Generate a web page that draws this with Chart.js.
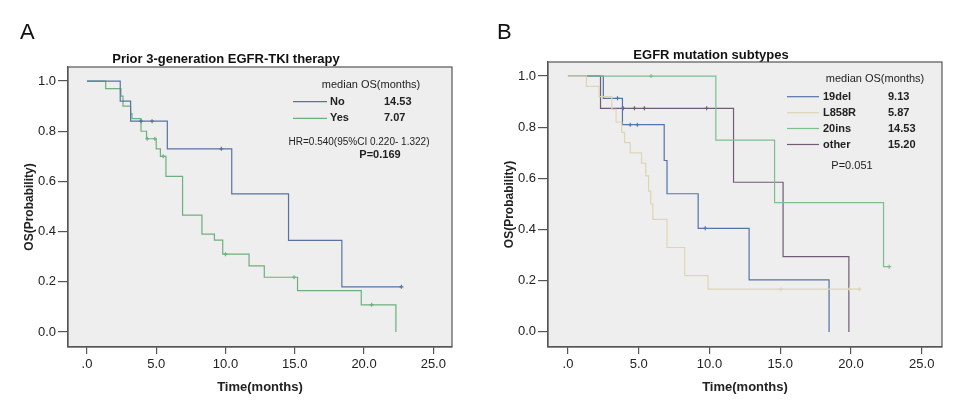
<!DOCTYPE html>
<html>
<head>
<meta charset="utf-8">
<script src="https://cdn.jsdelivr.net/npm/chart.js@4"></script>
<style>
  body { margin: 0; background: #fff; width: 960px; height: 407px; position: relative; overflow: hidden; font-family: "Liberation Sans", Arial, sans-serif; }
  .panel { position: absolute; top: 0; width: 480px; height: 407px; }
  .letter { position: absolute; font-size: 22px; line-height: 22px; color: #111; top: 21px; }
</style>
</head>
<body>
<div class="panel" style="left:0"><canvas id="chartA" width="480" height="407"></canvas></div>
<div class="panel" style="left:480px"><canvas id="chartB" width="480" height="407"></canvas></div>
<div class="letter" style="left:20px">A</div>
<div class="letter" style="left:497px">B</div>
<script>
// axis ticks
const timeTicks = [0, 5, 10, 15, 20, 25];
const probTicks = [0, 0.2, 0.4, 0.6, 0.8, 1.0];

// panel A - prior 3rd generation EGFR-TKI
const aGroups = ['No', 'Yes'];
const aMedians = ['14.53', '7.07'];
const noTimes = [0, 2.4, 3.15, 5.8, 10.45, 14.55, 18.4, 22.7];
const noSurv = [1, 0.92, 0.84, 0.73, 0.55, 0.365, 0.18, 0.18];
const noCensor = [3.9, 4.7, 9.7, 22.7];
const yesTimes = [0, 1.35, 2.45, 2.6, 3.15, 3.25, 3.9, 4.3, 5.0, 5.3, 5.7, 6.9, 8.3, 9.2, 9.8, 11.7, 12.8, 15.2, 19.8, 22.3];
const yesSurv = [1, 0.97, 0.94, 0.90, 0.87, 0.85, 0.80, 0.77, 0.73, 0.70, 0.62, 0.466, 0.39, 0.366, 0.31, 0.263, 0.218, 0.165, 0.108, 0];
const yesCensor = [4.35, 4.9, 5.5, 10.0, 14.95, 20.55];

// panel B - EGFR mutation subtypes
const bGroups = ['19del', 'L858R', '20ins', 'other'];
const bMedians = ['9.13', '5.87', '14.53', '15.20'];
const delTimes = [0, 2.5, 3.85, 6.8, 7.0, 9.2, 12.8, 18.45];
const delSurv = [1, 0.913, 0.81, 0.67, 0.54, 0.405, 0.203, 0];
const delCensor = [3.5, 4.4, 4.9, 9.7];
const l858Times = [0, 1.3, 2.2, 3.1, 3.4, 3.8, 4.0, 4.4, 5.2, 5.5, 5.7, 5.85, 6.0, 7.0, 8.25, 9.9, 20.6];
const l858Surv = [1, 0.96, 0.92, 0.87, 0.82, 0.78, 0.74, 0.70, 0.66, 0.61, 0.55, 0.50, 0.44, 0.33, 0.22, 0.167, 0.167];
const l858Censor = [15.05, 19.9, 20.6];
const insTimes = [0, 10.45, 14.6, 22.3, 22.7];
const insSurv = [1, 0.75, 0.505, 0.255, 0.255];
const insCensor = [5.87, 22.7];
const otherTimes = [0, 2.3, 11.7, 15.2, 19.85];
const otherSurv = [1, 0.874, 0.585, 0.294, 0];
const otherCensor = [3.9, 4.7, 5.4, 9.8];

function survAt(times, surv, t) {
  let s = surv[0];
  for (let i = 0; i < times.length; i++) if (times[i] <= t) s = surv[i];
  return s;
}

function kmSets(label, times, surv, censor, color) {
  return [{
    label: label,
    data: times.map((t, i) => ({x: t, y: surv[i]})),
    borderColor: color,
    borderWidth: 1.2,
    stepped: 'before',
    pointRadius: 0,
    fill: false
  }, {
    label: label + ' censored',
    data: censor.map(t => ({x: t, y: survAt(times, surv, t)})),
    borderColor: color,
    backgroundColor: color,
    showLine: false,
    pointStyle: 'cross',
    pointRadius: 2,
    pointBorderWidth: 1.2
  }];
}

const framePlugin = {
  id: 'frame',
  beforeDraw(chart) {
    const {ctx, chartArea: a} = chart;
    ctx.save();
    ctx.fillStyle = '#eeeeee';
    ctx.fillRect(a.left, a.top, a.width, a.height);
    ctx.restore();
  },
  afterDraw(chart) {
    const {ctx, chartArea: a} = chart;
    ctx.save();
    ctx.strokeStyle = '#555';
    ctx.lineWidth = 1.2;
    ctx.strokeRect(a.left, a.top, a.width, a.height);
    ctx.restore();
  }
};

// median OS box drawn inside the plot
const kmLegendPlugin = {
  id: 'kmLegend',
  afterDatasetsDraw(chart, args, o) {
    const ctx = chart.ctx;
    ctx.save();
    ctx.textBaseline = 'middle';
    ctx.fillStyle = '#222';
    ctx.textAlign = 'center';
    ctx.font = '11px "Liberation Sans", Arial, sans-serif';
    ctx.fillText('median OS(months)', o.headerX, o.headerY);
    o.rows.forEach(r => {
      ctx.strokeStyle = r.color;
      ctx.lineWidth = 1.2;
      ctx.beginPath();
      ctx.moveTo(o.lineX1, r.y);
      ctx.lineTo(o.lineX2, r.y);
      ctx.stroke();
      ctx.textAlign = 'left';
      ctx.font = 'bold 11px "Liberation Sans", Arial, sans-serif';
      ctx.fillText(r.label, o.labelX, r.y);
      ctx.fillText(r.value, o.valueX, r.y);
    });
    o.notes.forEach(n => {
      ctx.textAlign = 'center';
      ctx.font = (n.bold ? 'bold ' : '') + n.size + 'px "Liberation Sans", Arial, sans-serif';
      ctx.fillText(n.text, n.x, n.y);
    });
    ctx.restore();
  }
};

function makeScales(xMin, xMax, yMin, yMax) {
  return {
    x: {
      type: 'linear', min: xMin, max: xMax,
      afterBuildTicks: s => { s.ticks = timeTicks.map(v => ({value: v})); },
      afterFit: s => { s.height = 60; },
      grid: {drawOnChartArea: false, drawTicks: true, tickLength: 7, color: '#555', lineWidth: 1.2},
      border: {display: true, color: '#555', width: 1.2},
      ticks: {padding: 3, color: '#222', font: {size: 13}, maxRotation: 0, autoSkip: false,
        callback: v => v === 0 ? '.0' : v.toFixed(1)},
      title: {display: true, text: 'Time(months)', color: '#222', font: {size: 13, weight: 'bold'}, padding: {top: 0, bottom: 12}}
    },
    y: {
      min: yMin, max: yMax,
      afterBuildTicks: s => { s.ticks = probTicks.map(v => ({value: v})); },
      afterFit: s => { s.width = 68; },
      grid: {drawOnChartArea: false, drawTicks: true, tickLength: 10, color: '#555', lineWidth: 1.2},
      border: {display: true, color: '#555', width: 1.2},
      ticks: {padding: 2, color: '#222', font: {size: 13}, callback: v => v.toFixed(1)},
      title: {display: true, text: 'OS(Probability)', color: '#222', font: {size: 12, weight: 'bold'}, padding: {top: 22, bottom: 0}}
    }
  };
}

Chart.defaults.font.family = '"Liberation Sans", Arial, sans-serif';

const colA = ['#5873a3', '#6db07d'];
new Chart(document.getElementById('chartA'), {
  type: 'line',
  data: {
    datasets: [
      ...kmSets(aGroups[0], noTimes, noSurv, noCensor, colA[0]),
      ...kmSets(aGroups[1], yesTimes, yesSurv, yesCensor, colA[1])
    ]
  },
  options: {
    responsive: false,
    animation: false,
    layout: {padding: {top: 0, right: 28, bottom: 0, left: 0}},
    scales: makeScales(-1.37, 26.35, -0.06, 1.056),
    plugins: {
      legend: {display: false},
      tooltip: {enabled: false},
      title: {display: true, text: 'Prior 3-generation EGFR-TKI therapy', color: '#111',
        font: {size: 13, weight: 'bold', lineHeight: 1}, padding: {top: 53, bottom: 1}},
      kmLegend: {
        headerX: 371, headerY: 85,
        lineX1: 293, lineX2: 327, labelX: 330, valueX: 384,
        rows: aGroups.map((g, i) => ({label: g, value: aMedians[i], color: colA[i], y: [101.7, 118.3][i]})),
        notes: [
          {text: 'HR=0.540(95%CI 0.220- 1.322)', x: 359, y: 142, size: 10, bold: false},
          {text: 'P=0.169', x: 380, y: 155, size: 11, bold: true}
        ]
      }
    }
  },
  plugins: [framePlugin, kmLegendPlugin]
});

const colB = ['#5473a8', '#ddd6b4', '#7dbf8d', '#735a78'];
new Chart(document.getElementById('chartB'), {
  type: 'line',
  data: {
    datasets: [
      ...kmSets(bGroups[1], l858Times, l858Surv, l858Censor, colB[1]),
      ...kmSets(bGroups[2], insTimes, insSurv, insCensor, colB[2]),
      ...kmSets(bGroups[0], delTimes, delSurv, delCensor, colB[0]),
      ...kmSets(bGroups[3], otherTimes, otherSurv, otherCensor, colB[3])
    ]
  },
  options: {
    responsive: false,
    animation: false,
    layout: {padding: {top: 0, right: 18, bottom: 0, left: 0}},
    scales: makeScales(-1.41, 26.43, -0.059, 1.055),
    plugins: {
      legend: {display: false},
      tooltip: {enabled: false},
      title: {display: true, text: 'EGFR mutation subtypes', color: '#111',
        font: {size: 13, weight: 'bold', lineHeight: 1}, padding: {top: 49, bottom: 0}},
      kmLegend: {
        headerX: 395, headerY: 79,
        lineX1: 307, lineX2: 339, labelX: 343, valueX: 408,
        rows: bGroups.map((g, i) => ({label: g, value: bMedians[i], color: colB[i], y: [96.7, 112.7, 128.5, 144.5][i]})),
        notes: [
          {text: 'P=0.051', x: 372, y: 166, size: 11, bold: false}
        ]
      }
    }
  },
  plugins: [framePlugin, kmLegendPlugin]
});
</script>
</body>
</html>
